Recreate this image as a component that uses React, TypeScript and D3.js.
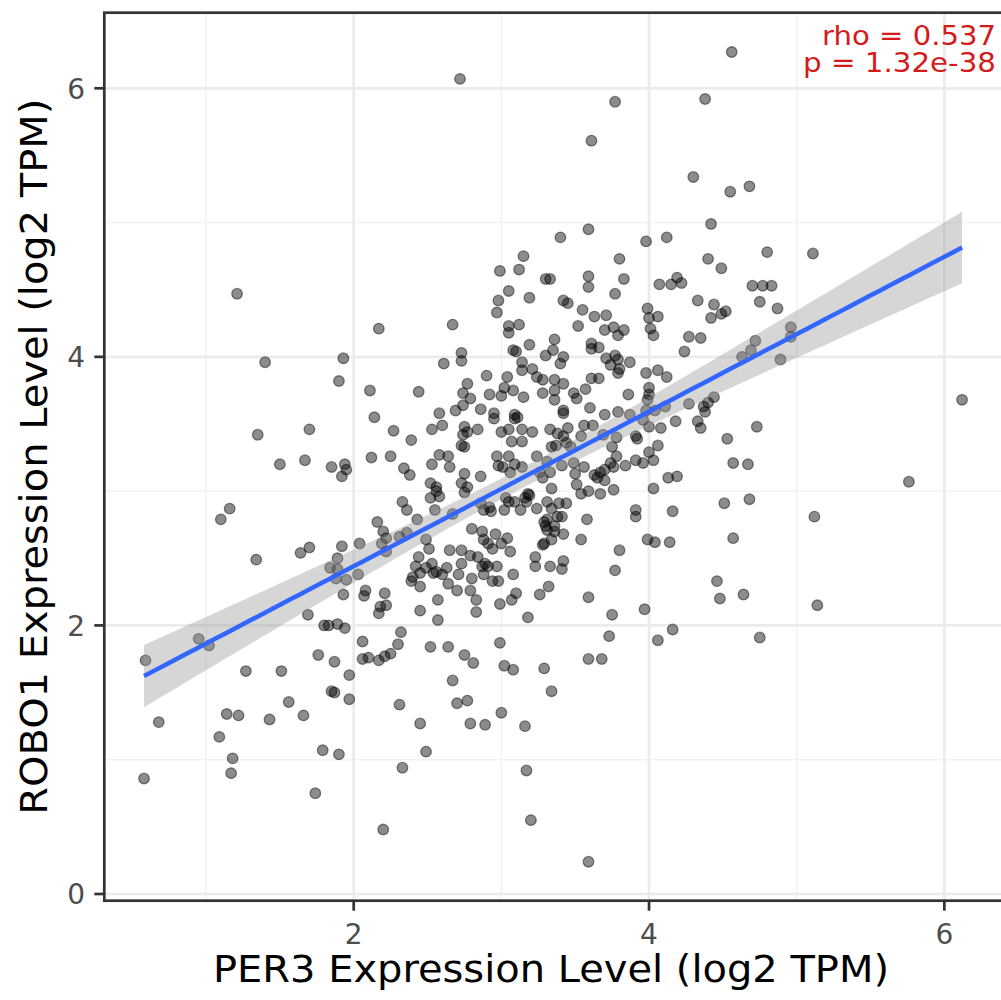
import React from 'react';
import * as d3 from 'd3';

// PER3 (x) vs ROBO1 (y), log2 TPM
const SAMPLES: [number, number][] = [
  [1.21, 4.47], [2.72, 6.07], [3.77, 5.90], [3.61, 5.61], [4.30, 5.34], [3.59, 4.95], [3.40, 4.89], [3.98, 4.86],
  [4.12, 4.89], [3.15, 4.75], [3.80, 4.73], [2.99, 4.64], [3.12, 4.65], [3.30, 4.58], [3.33, 4.58], [3.59, 4.60],
  [3.59, 4.52], [3.83, 4.58], [4.07, 4.54], [4.15, 4.54], [4.19, 4.59], [4.22, 4.55], [3.05, 4.49], [2.98, 4.42],
  [3.19, 4.44], [3.42, 4.42], [3.45, 4.40], [3.77, 4.47], [3.55, 4.35], [3.99, 4.36], [4.33, 4.42], [2.97, 4.33],
  [4.56, 6.27], [4.38, 5.92], [4.55, 5.23], [4.68, 5.27], [4.42, 4.99], [4.40, 4.73], [4.49, 4.66], [4.80, 4.78],
  [5.11, 4.77], [4.70, 4.53], [4.77, 4.53], [4.83, 4.53], [4.44, 4.39], [4.75, 4.41], [4.87, 4.36], [4.42, 4.29],
  [4.49, 4.32], [4.52, 4.34], [4.35, 4.14], [4.96, 4.22], [4.96, 4.15], [4.72, 4.12], [4.69, 4.05], [4.63, 4.00],
  [4.89, 3.98], [4.44, 3.70], [4.40, 3.66], [4.37, 3.63], [4.38, 3.59], [4.33, 3.52], [4.35, 3.47], [4.73, 3.48],
  [4.53, 3.39], [4.57, 3.21], [4.67, 3.20], [6.12, 3.68], [5.76, 3.07], [4.51, 2.91], [4.68, 2.94], [5.12, 2.81],
  [4.57, 2.65], [4.46, 2.33], [4.48, 2.20], [4.64, 2.23], [5.14, 2.15], [4.75, 1.91], [2.45, 2.11], [2.57, 2.04],
  [2.83, 2.10], [3.18, 2.06], [3.75, 2.08], [3.97, 2.12], [2.32, 1.95], [2.30, 1.86], [2.52, 1.84], [2.64, 1.84],
  [2.75, 1.78], [2.81, 1.72], [2.99, 1.87], [3.02, 1.70], [3.08, 1.67], [3.29, 1.68], [3.34, 1.51], [3.73, 1.92],
  [3.59, 1.75], [3.68, 1.75], [4.06, 1.89], [4.16, 1.97], [2.67, 1.59], [2.70, 1.42], [2.77, 1.44], [2.31, 1.41],
  [2.45, 1.27], [2.79, 1.27], [2.89, 1.26], [3.00, 1.35], [3.16, 1.25], [2.49, 1.06], [2.33, 0.94], [3.17, 0.92],
  [3.20, 0.55], [3.59, 0.24], [1.69, 2.08], [1.80, 2.00], [1.83, 2.00], [1.89, 2.01], [1.94, 1.98], [2.17, 2.09],
  [0.95, 1.90], [1.02, 1.85], [0.59, 1.74], [0.68, 1.28], [0.58, 0.86], [1.27, 1.66], [1.51, 1.66], [1.56, 1.43],
  [1.14, 1.34], [1.22, 1.33], [1.43, 1.30], [1.66, 1.33], [1.09, 1.17], [1.18, 1.01], [1.17, 0.90], [1.76, 1.78],
  [1.87, 1.73], [1.97, 1.63], [1.85, 1.51], [1.87, 1.50], [1.97, 1.45], [1.79, 1.07], [1.90, 1.04], [1.74, 0.75],
  [2.20, 0.48], [2.06, 1.88], [2.06, 1.75], [2.10, 1.76], [2.17, 1.74], [2.21, 1.77], [2.25, 1.79], [2.17, 4.21],
  [1.93, 3.99], [1.40, 3.96], [1.90, 3.82], [2.11, 3.75], [2.14, 3.55], [2.27, 3.45], [1.35, 3.42], [1.70, 3.46],
  [1.50, 3.20], [1.67, 3.23], [1.85, 3.18], [1.94, 3.20], [1.95, 3.16], [1.92, 3.11], [2.12, 3.25], [2.25, 3.26],
  [1.16, 2.87], [1.10, 2.79], [2.16, 2.77], [2.20, 2.70], [2.22, 2.65], [2.19, 2.61], [2.22, 2.55], [1.34, 2.49],
  [1.64, 2.54], [1.70, 2.58], [1.92, 2.59], [2.04, 2.61], [1.89, 2.50], [1.84, 2.43], [1.89, 2.42], [1.88, 2.35],
  [1.95, 2.34], [2.03, 2.38], [1.93, 2.23], [2.07, 2.22], [2.08, 2.26], [2.21, 2.24], [2.18, 2.14], [2.22, 2.15],
  [3.63, 4.30], [3.71, 4.31], [4.00, 4.29], [4.06, 4.30], [2.67, 4.24], [3.05, 4.23], [3.12, 4.24], [3.05, 4.18],
  [3.52, 4.23], [3.70, 4.20], [3.76, 4.22], [3.83, 4.20], [3.79, 4.16], [4.01, 4.21], [4.03, 4.16], [4.27, 4.15],
  [3.36, 4.13], [3.19, 4.09], [3.08, 4.05], [3.10, 4.04], [2.73, 4.03], [2.73, 3.97], [3.61, 4.10], [3.61, 4.06],
  [3.66, 4.07], [3.30, 4.01], [3.35, 4.05], [4.24, 4.04], [2.61, 3.95], [3.14, 3.96], [3.40, 3.95], [3.42, 4.00],
  [3.71, 3.99], [3.77, 4.01], [3.79, 3.98], [3.74, 3.94], [3.87, 3.96], [3.80, 3.91], [3.79, 3.88], [3.98, 3.88],
  [4.06, 3.90], [4.12, 3.85], [2.90, 3.86], [3.04, 3.85], [3.14, 3.90], [3.21, 3.91], [3.24, 3.85], [3.28, 3.83],
  [3.36, 3.83], [3.42, 3.80], [3.61, 3.84], [3.66, 3.84], [2.77, 3.80], [2.74, 3.73], [2.79, 3.69], [2.44, 3.74],
  [2.92, 3.72], [3.00, 3.71], [3.02, 3.77], [3.08, 3.75], [3.15, 3.70], [3.28, 3.73], [3.36, 3.75], [3.36, 3.68],
  [3.49, 3.73], [3.51, 3.69], [3.57, 3.76], [3.86, 3.72], [4.00, 3.77], [4.00, 3.72], [3.99, 3.68], [2.69, 3.60],
  [2.74, 3.64], [2.86, 3.61], [2.58, 3.58], [2.95, 3.58], [2.95, 3.54], [3.09, 3.57], [3.11, 3.55], [3.09, 3.54],
  [3.42, 3.58], [3.42, 3.60], [3.60, 3.62], [3.70, 3.57], [3.79, 3.59], [3.87, 3.57], [3.98, 3.60], [4.04, 3.60],
  [3.96, 3.53], [4.11, 3.63], [4.18, 3.52], [4.27, 3.65], [2.53, 3.46], [2.60, 3.49], [2.75, 3.48], [2.77, 3.44],
  [2.74, 3.42], [2.84, 3.46], [3.00, 3.44], [3.05, 3.46], [3.14, 3.46], [3.21, 3.44], [3.33, 3.46], [3.38, 3.43],
  [3.42, 3.41], [3.45, 3.47], [3.56, 3.49], [3.62, 3.49], [3.54, 3.41], [3.69, 3.42], [3.78, 3.40], [3.91, 3.41],
  [3.92, 3.39], [4.00, 3.48], [4.08, 3.47], [2.39, 3.38], [2.73, 3.34], [2.75, 3.33], [3.07, 3.37], [3.14, 3.37],
  [3.34, 3.33], [3.37, 3.34], [3.44, 3.36], [3.47, 3.33], [3.75, 3.33], [4.06, 3.34], [2.58, 3.27], [2.64, 3.26],
  [2.53, 3.20], [2.65, 3.18], [2.97, 3.26], [3.05, 3.26], [2.98, 3.19], [3.01, 3.18], [3.09, 3.20], [3.06, 3.14],
  [3.14, 3.18], [3.24, 3.26], [3.31, 3.22], [3.41, 3.19], [3.49, 3.21], [3.56, 3.18], [3.78, 3.26], [3.76, 3.18],
  [3.74, 3.21], [3.67, 3.14], [3.70, 3.16], [3.65, 3.10], [3.84, 3.19], [3.91, 3.23], [3.96, 3.21], [4.00, 3.29],
  [4.03, 3.23], [2.34, 3.17], [2.38, 3.12], [2.52, 3.06], [2.56, 3.03], [2.56, 3.00], [2.75, 3.13], [2.73, 3.06],
  [2.77, 3.03], [2.75, 2.99], [2.86, 3.11], [3.26, 3.14], [3.28, 3.10], [3.33, 3.14], [3.50, 3.13], [3.51, 3.05],
  [3.34, 3.02], [3.18, 2.98], [3.54, 2.98], [3.59, 3.00], [3.67, 2.98], [3.76, 3.01], [3.70, 3.08], [3.63, 3.12],
  [4.13, 3.10], [4.19, 3.11], [4.03, 3.02], [2.33, 2.92], [2.36, 2.86], [2.52, 2.95], [2.58, 2.96], [2.55, 2.86],
  [2.43, 2.79], [2.67, 2.83], [2.86, 2.91], [2.88, 2.86], [2.92, 2.88], [2.93, 2.85], [3.03, 2.95], [3.05, 2.92],
  [3.02, 2.86], [3.09, 2.92], [3.13, 2.86], [3.17, 2.92], [3.16, 2.95], [3.19, 2.97], [3.24, 2.87], [3.31, 2.92],
  [3.34, 2.87], [3.39, 2.91], [3.44, 2.91], [3.31, 2.79], [3.29, 2.77], [3.38, 2.81], [3.41, 2.81], [3.58, 2.79],
  [3.91, 2.86], [3.91, 2.81], [4.16, 2.85], [2.31, 2.66], [2.36, 2.69], [2.49, 2.64], [2.51, 2.57], [2.44, 2.51],
  [2.80, 2.72], [2.87, 2.70], [2.88, 2.64], [2.91, 2.61], [2.96, 2.68], [3.04, 2.65], [3.00, 2.61], [2.94, 2.57],
  [3.30, 2.74], [3.31, 2.71], [3.36, 2.74], [3.36, 2.70], [3.42, 2.68], [3.34, 2.64], [3.28, 2.60], [3.29, 2.61],
  [3.54, 2.64], [3.99, 2.64], [4.04, 2.62], [4.14, 2.62], [3.80, 2.56], [2.73, 2.56], [2.79, 2.52], [2.65, 2.56],
  [2.84, 2.51], [3.06, 2.55], [3.23, 2.51], [2.42, 2.44], [2.45, 2.39], [2.40, 2.36], [2.53, 2.46], [2.54, 2.39],
  [2.56, 2.40], [2.60, 2.38], [2.63, 2.43], [2.49, 2.43], [2.39, 2.33], [2.45, 2.29], [2.73, 2.46], [2.71, 2.38],
  [2.80, 2.35], [2.87, 2.44], [2.89, 2.46], [2.91, 2.44], [2.88, 2.38], [2.97, 2.44], [2.94, 2.33], [2.98, 2.33],
  [3.08, 2.38], [3.23, 2.44], [3.33, 2.44], [3.41, 2.42], [3.42, 2.48], [3.77, 2.41], [2.64, 2.31], [2.79, 2.26],
  [2.70, 2.26], [2.57, 2.19], [2.83, 2.19], [2.99, 2.16], [3.10, 2.24], [3.26, 2.23], [3.32, 2.29], [3.07, 2.19],
  [3.59, 2.21],
];

const X_MAJOR = [2, 4, 6];
const X_MINOR = [1, 3, 5];
const Y_MAJOR = [0, 2, 4, 6];
const Y_MINOR = [1, 3, 5];
const X_DOMAIN: [number, number] = [0.311, 6.4];
const Y_DOMAIN: [number, number] = [-0.05, 6.563];
const X_TITLE = 'PER3 Expression Level (log2 TPM)';
const Y_TITLE = 'ROBO1 Expression Level (log2 TPM)';
const STATS = ['rho = 0.537', 'p = 1.32e-38'];

const FONT = "'DejaVu Sans', Verdana, sans-serif";

export default function App() {
  const W = 1001;
  const H = 1000;
  const P = { left: 104.3, top: 12.7, right: 1003.4, bottom: 900.7 };
  const x = d3.scaleLinear().domain(X_DOMAIN).range([P.left, P.right]);
  const y = d3.scaleLinear().domain(Y_DOMAIN).range([P.bottom, P.top]);

  // linear model with 95% confidence band (as geom_smooth(method = "lm"))
  const n = SAMPLES.length;
  const xs = SAMPLES.map((d) => d[0]);
  const ys = SAMPLES.map((d) => d[1]);
  const mx = d3.mean(xs) as number;
  const my = d3.mean(ys) as number;
  let sxx = 0;
  let sxy = 0;
  SAMPLES.forEach(([a, b]) => {
    sxx += (a - mx) * (a - mx);
    sxy += (a - mx) * (b - my);
  });
  const slope = sxy / sxx;
  const icpt = my - slope * mx;
  let sse = 0;
  SAMPLES.forEach(([a, b]) => {
    const r = b - (icpt + slope * a);
    sse += r * r;
  });
  const s = Math.sqrt(sse / (n - 2));
  const tq = 1.965;
  const [x0, x1] = d3.extent(xs) as [number, number];
  const fit = d3.range(80).map((i) => {
    const xv = x0 + ((x1 - x0) * i) / 79;
    const yh = icpt + slope * xv;
    const se = s * Math.sqrt(1 / n + ((xv - mx) * (xv - mx)) / sxx);
    return { xv, yh, lo: yh - tq * se, hi: yh + tq * se };
  });
  const area = d3
    .area<{ xv: number; lo: number; hi: number }>()
    .x((d) => x(d.xv))
    .y0((d) => y(d.lo))
    .y1((d) => y(d.hi));
  const line = d3
    .line<{ xv: number; yh: number }>()
    .x((d) => x(d.xv))
    .y((d) => y(d.yh));

  return (
    <svg
      width={W}
      height={H}
      style={{ position: 'absolute', left: 0, top: 0, background: '#fff' }}
      fontFamily={FONT}
    >
      <rect x={0} y={0} width={W} height={H} fill="#fff" />
      <defs>
        <clipPath id="panel">
          <rect x={P.left} y={P.top} width={P.right - P.left} height={P.bottom - P.top} />
        </clipPath>
      </defs>
      <g clipPath="url(#panel)">
        {Y_MINOR.map((v) => (
          <line key={'ym' + v} x1={P.left} x2={P.right} y1={y(v)} y2={y(v)} stroke="#f2f2f2" strokeWidth={1.5} />
        ))}
        {X_MINOR.map((v) => (
          <line key={'xm' + v} y1={P.top} y2={P.bottom} x1={x(v)} x2={x(v)} stroke="#f2f2f2" strokeWidth={1.5} />
        ))}
        {Y_MAJOR.map((v) => (
          <line key={'yM' + v} x1={P.left} x2={P.right} y1={y(v)} y2={y(v)} stroke="#ebebeb" strokeWidth={2.7} />
        ))}
        {X_MAJOR.map((v) => (
          <line key={'xM' + v} y1={P.top} y2={P.bottom} x1={x(v)} x2={x(v)} stroke="#ebebeb" strokeWidth={2.7} />
        ))}
        {SAMPLES.map(([a, b], i) => (
          <circle
            key={i}
            cx={x(a)}
            cy={y(b)}
            r={5.3}
            fill="#000"
            fillOpacity={0.45}
            stroke="#000"
            strokeOpacity={0.45}
            strokeWidth={1.3}
          />
        ))}
        <path d={area(fit) as string} fill="#999999" fillOpacity={0.4} />
        <path d={line(fit) as string} fill="none" stroke="#3366FF" strokeWidth={4.5} />
      </g>
      <rect
        x={P.left}
        y={P.top}
        width={P.right - P.left}
        height={P.bottom - P.top}
        fill="none"
        stroke="#333333"
        strokeWidth={2.7}
      />
      {/* ticks */}
      {X_MAJOR.map((v) => (
        <g key={'xt' + v}>
          <line x1={x(v)} x2={x(v)} y1={P.bottom} y2={P.bottom + 10} stroke="#333333" strokeWidth={2.7} />
          <text x={x(v)} y={944} textAnchor="middle" fontSize={28} fill="#4d4d4d">
            {v}
          </text>
        </g>
      ))}
      {Y_MAJOR.map((v) => (
        <g key={'yt' + v}>
          <line x1={P.left - 10} x2={P.left} y1={y(v)} y2={y(v)} stroke="#333333" strokeWidth={2.7} />
          <text x={85} y={y(v) + 10.5} textAnchor="end" fontSize={28} fill="#4d4d4d">
            {v}
          </text>
        </g>
      ))}
      {/* axis titles */}
      <text
        x={551}
        y={981.7}
        textAnchor="middle"
        fontSize={37}
        fill="#000"
        textLength={676}
        lengthAdjust="spacingAndGlyphs"
      >
        {X_TITLE}
      </text>
      <text
        transform={`translate(47, ${(P.top + P.bottom) / 2}) rotate(-90)`}
        textAnchor="middle"
        fontSize={37}
        fill="#000"
        textLength={716}
        lengthAdjust="spacingAndGlyphs"
      >
        {Y_TITLE}
      </text>
      {/* correlation annotation */}
      {STATS.map((t, i) => (
        <text
          key={t}
          x={996}
          y={44.5 + i * 27.2}
          textAnchor="end"
          fontSize={26.5}
          fill="#d41a1a"
          textLength={i === 0 ? 174 : 193}
          lengthAdjust="spacingAndGlyphs"
        >
          {t}
        </text>
      ))}
    </svg>
  );
}
